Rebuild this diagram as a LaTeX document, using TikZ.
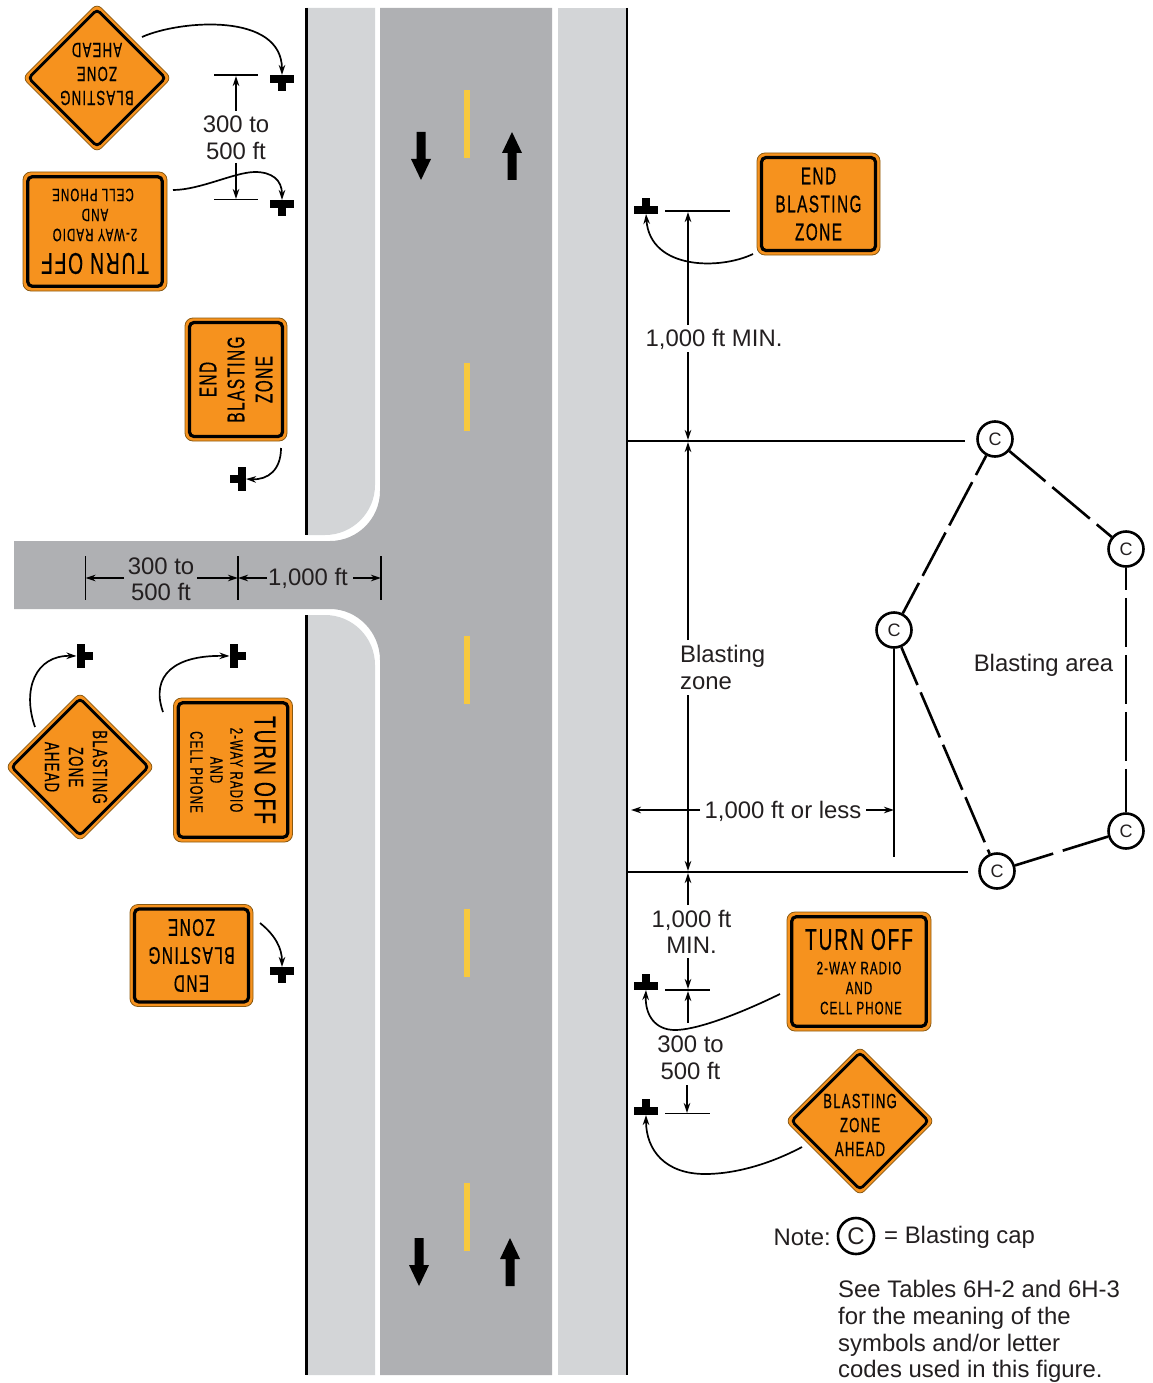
\documentclass[tikz,border=0pt]{standalone}
\usepackage{fontspec}
\setmainfont{Liberation Sans}
\newfontfamily\signfont[FakeStretch=0.64,LetterSpace=6,FakeBold=0.5]{Liberation Sans}
\usetikzlibrary{arrows.meta,shapes.geometric}
\definecolor{shoulder}{HTML}{D3D5D7}
\definecolor{road}{HTML}{AFB0B3}
\definecolor{dashyellow}{HTML}{F8C93E}
\definecolor{signorange}{HTML}{F6921E}
\definecolor{signedge}{HTML}{8A5A12}
\definecolor{ink}{HTML}{231F20}
\tikzset{
  lbl/.style={font=\fontsize{23.9}{24}\selectfont,text=ink,inner sep=0pt},
  dimarrow/.style={line width=1.6pt,draw=black,-{Stealth[length=10pt,width=6.5pt]}},
  rulebar/.style={line width=1.8pt,draw=black},
  leadcurve/.style={line width=1.7pt,draw=black,-{Stealth[length=10pt,width=6.5pt]}},
  boundary/.style={line width=2.6pt,draw=black},
  postbar/.style={fill=black,inner sep=0pt,outer sep=0pt},
  barh/.style={postbar,minimum width=24pt,minimum height=8pt},
  barv/.style={postbar,minimum width=8pt,minimum height=24pt},
  poststem/.style={postbar,minimum width=8pt,minimum height=8pt},
  blastcap/.style={circle,draw=black,fill=white,line width=2.6pt,minimum size=35pt,inner sep=0pt,font=\fontsize{18}{18}\selectfont,text=ink},
  blastlink/.style={line width=2.6pt,draw=black},
  signouter/.style={rectangle,draw=signedge,line width=.8pt,fill=signorange,rounded corners=8pt,inner sep=0pt,transform shape},
  signinner/.style={rectangle,draw=black,line width=3.2pt,rounded corners=4.5pt,inner sep=0pt,transform shape},
  diaouter/.style={diamond,aspect=1,draw=signedge,line width=.8pt,fill=signorange,rounded corners=6pt,inner sep=0pt,minimum size=149pt},
  diainner/.style={diamond,aspect=1,draw=black,line width=2.8pt,rounded corners=4pt,inner sep=0pt,minimum size=138pt},
  signline/.style={inner sep=0pt,text=black,transform shape},
}
\newcommand\postdown[3]{\node[barh] (#1) at (#2,#3) {}; \node[poststem] (#1s) at (#2,#3+8) {};}
\newcommand\postup[3]{\node[barh] (#1) at (#2,#3) {}; \node[poststem] (#1s) at (#2,#3-8) {};}
\newcommand\postright[3]{\node[barv] (#1) at (#2,#3) {}; \node[poststem] (#1s) at (#2+8,#3) {};}
\newcommand\postleft[3]{\node[barv] (#1) at (#2,#3) {}; \node[poststem] (#1s) at (#2-8,#3) {};}
\newcommand\turnoffsign[4]{\begin{scope}[shift={(#2,#3)},rotate=#4]
  \node[signouter,minimum width=144pt,minimum height=119pt] (#1) at (0,0) {};
  \node[signinner,minimum width=134.5pt,minimum height=109.5pt] (#1i) at (0,0) {};
  \node[signline,font=\signfont\fontsize{30}{30}\selectfont] (#1a) at (0,-32) {TURN OFF};
  \node[signline,font=\signfont\fontsize{18}{18}\selectfont] (#1b) at (0,-3.5) {2-WAY RADIO};
  \node[signline,font=\signfont\fontsize{18}{18}\selectfont] (#1c) at (0,16.5) {AND};
  \node[signline,font=\signfont\fontsize{18}{18}\selectfont] (#1d) at (2,36.5) {CELL PHONE};
\end{scope}}
\newcommand\finishsign[4]{\begin{scope}[shift={(#2,#3)},rotate=#4]
  \node[signouter,minimum width=123pt,minimum height=102pt] (#1) at (0,0) {};
  \node[signinner,minimum width=114pt,minimum height=93pt] (#1i) at (0,0) {};
  \node[signline,font=\signfont\fontsize{24}{24}\selectfont] (#1a) at (0,-28) {END};
  \node[signline,font=\signfont\fontsize{24}{24}\selectfont] (#1b) at (0,0) {BLASTING};
  \node[signline,font=\signfont\fontsize{24}{24}\selectfont] (#1c) at (0,28) {ZONE};
\end{scope}}
\newcommand\aheadsign[4]{\begin{scope}[shift={(#2,#3)},rotate=#4]
  \node[diaouter] (#1) at (0,0) {};
  \node[diainner] (#1i) at (0,0) {};
  \node[signline,font=\signfont\fontsize{20.5}{20.5}\selectfont] (#1a) at (0,-20) {BLASTING};
  \node[signline,font=\signfont\fontsize{20.5}{20.5}\selectfont] (#1b) at (0,4) {ZONE};
  \node[signline,font=\signfont\fontsize{20.5}{20.5}\selectfont] (#1c) at (0,28) {AHEAD};
\end{scope}}
\newcommand\upmark[2]{\fill[black] (#1,#2) -- (#1+10,#2+21) -- (#1+4.5,#2+21) -- (#1+4.5,#2+48) -- (#1-4.5,#2+48) -- (#1-4.5,#2+21) -- (#1-10,#2+21) -- cycle;}
\newcommand\downmark[2]{\fill[black] (#1,#2) -- (#1+10,#2-21) -- (#1+4.5,#2-21) -- (#1+4.5,#2-48) -- (#1-4.5,#2-48) -- (#1-4.5,#2-21) -- (#1-10,#2-21) -- cycle;}
\begin{document}
\begin{tikzpicture}[x=1pt,y=-1pt]
\useasboundingbox (0,0) rectangle (1152,1383);
% pavement
\fill[road] (380,8) -- (552,8) -- (552,1375) -- (380,1375) -- (380,660)
  .. controls (380,632.4) and (357.6,609) .. (330,609) -- (14,609) -- (14,541) -- (330,541)
  .. controls (357.6,541) and (380,518.6) .. (380,491) -- cycle;
\fill[shoulder] (306,8) -- (375,8) -- (375,485) .. controls (375,512.6) and (352.6,535) .. (325,535) -- (306,535) -- cycle;
\fill[shoulder] (306,615) -- (325,615) .. controls (352.6,615) and (375,637.4) .. (375,665) -- (375,1375) -- (306,1375) -- cycle;
\fill[shoulder] (558,8) rectangle (627,1375);
\draw[boundary] (306.5,8) -- (306.5,535);
\draw[boundary] (306.5,615) -- (306.5,1375);
\draw[boundary] (627,8) -- (627,1375);
% centre line
\foreach \y in {90,363,636,909,1183} \fill[dashyellow] (464,\y) rectangle (470,\y+68);
% direction marks
\downmark{421}{180} \upmark{512}{132} \downmark{419}{1286} \upmark{510}{1238}
% signs
\aheadsign{sa}{97}{78}{180}
\turnoffsign{sb}{95}{231.5}{180}
\finishsign{sc}{236}{379.5}{90}
\aheadsign{sd}{80}{767}{-90}
\turnoffsign{se}{233}{770}{-90}
\finishsign{sf}{191.5}{955.5}{180}
\finishsign{sg}{818.5}{204}{0}
\turnoffsign{sh}{859}{971.5}{0}
\aheadsign{si}{860}{1121}{0}
% posts
\postdown{pa}{282}{79}
\postdown{pb}{282}{204}
\postleft{pc}{242}{479}
\postright{pd}{80.5}{656}
\postright{pe}{233.5}{656}
\postdown{pf}{282}{971}
\postup{pg}{646}{210}
\postup{ph}{646}{986}
\postup{pi}{646}{1111}
% sign leads
\coordinate (la) at (142,37);
\coordinate (lb) at (173,190);
\coordinate (lc) at (281,448);
\coordinate (ld) at (35,727);
\coordinate (le) at (163,712);
\coordinate (lf) at (260,923);
\coordinate (lg) at (753,254);
\coordinate (lh) at (780,994);
\coordinate (li) at (802,1147);
\draw[leadcurve] (la) .. controls (180,20) and (282,12) .. (pa.north);
\draw[leadcurve] (lb) .. controls (200,190) and (235,172) .. (255,172) .. controls (272,172) and (282,180) .. (pb.north);
\draw[leadcurve] (lc) .. controls (281,470) and (268,480) .. (pc.east);
\draw[leadcurve] (ld) .. controls (22,690) and (35,655) .. (pd.west);
\draw[leadcurve] (le) .. controls (150,675) and (175,655) .. (pe.west);
\draw[leadcurve] (lf) .. controls (275,935) and (282,948) .. (pf.north);
\draw[leadcurve] (lg) .. controls (720,270) and (650,270) .. (pg.south);
\draw[leadcurve] (lh) .. controls (735,1016) and (695,1030) .. (675,1030) .. controls (655,1030) and (645,1015) .. (ph.south);
\draw[leadcurve] (li) .. controls (770,1164) and (735,1174) .. (705,1174) .. controls (665,1174) and (646,1150) .. (pi.south);
% top left dimension
\coordinate (ra1) at (214,75); \coordinate (ra2) at (258,75);
\coordinate (rb1) at (214,199.5); \coordinate (rb2) at (258,199.5);
\draw[rulebar] (ra1) -- (ra2); \draw[rulebar] (rb1) -- (rb2);
\node[lbl] (t1) at (236,124) {300 to};
\node[lbl] (t2) at (236,151) {500 ft};
\draw[dimarrow] (236,111) -- (236,76);
\draw[dimarrow] (236,163) -- (236,199);
% cross road dimension
\coordinate (x1a) at (85.5,556); \coordinate (x1b) at (85.5,600);
\coordinate (x2a) at (238,556); \coordinate (x2b) at (238,600);
\coordinate (x3a) at (381,556); \coordinate (x3b) at (381,600);
\draw[rulebar] (x1a) -- (x1b); \draw[rulebar] (x2a) -- (x2b); \draw[rulebar] (x3a) -- (x3b);
\node[lbl] (t3) at (161,566) {300 to};
\node[lbl] (t4) at (161,592) {500 ft};
\node[lbl] (t5) at (308,578.5) {1,000 ft};
\coordinate (x4) at (124,578); \coordinate (x5) at (197,578);
\coordinate (x6) at (267,578); \coordinate (x7) at (353,578);
\draw[dimarrow] (x4) -- (x1a |- x4);
\draw[dimarrow] (x5) -- (x2a |- x5);
\draw[dimarrow] (x6) -- (x2a |- x6);
\draw[dimarrow] (x7) -- (x3a |- x7);
% right side rules
\coordinate (rc1) at (665,211); \coordinate (rc2) at (730,211);
\coordinate (rd1) at (628,441); \coordinate (rd2) at (965,441);
\coordinate (re1) at (628,872); \coordinate (re2) at (968,872);
\coordinate (rf1) at (665,990); \coordinate (rf2) at (710,990);
\coordinate (rg1) at (665,1113.5); \coordinate (rg2) at (710,1113.5);
\draw[rulebar] (rc1) -- (rc2); \draw[rulebar] (rd1) -- (rd2); \draw[rulebar] (re1) -- (re2);
\draw[rulebar] (rf1) -- (rf2); \draw[rulebar] (rg1) -- (rg2);
\node[lbl] (t6) at (714,339) {1,000 ft MIN.};
\node[lbl,align=left,anchor=north west] (t7) at (680,645) {Blasting\\[3pt]zone};
\node[lbl] (t8) at (783,811) {1,000 ft or less};
\node[lbl] (t9) at (691.5,920) {1,000 ft};
\node[lbl] (t10) at (691.5,945) {MIN.};
\node[lbl] (t11) at (690.5,1044) {300 to};
\node[lbl] (t12) at (690.5,1071) {500 ft};
\coordinate (v1) at (688,325); \coordinate (v2) at (688,352);
\coordinate (v3) at (688,640); \coordinate (v4) at (688,695);
\coordinate (v5) at (688,905); \coordinate (v6) at (688,958);
\coordinate (v7) at (688,1023); \coordinate (v8) at (687,1085);
\draw[dimarrow] (v1) -- (688,212);
\draw[dimarrow] (v2) -- (688,440);
\draw[dimarrow] (v3) -- (688,442);
\draw[dimarrow] (v4) -- (688,871);
\draw[dimarrow] (v5) -- (688,873);
\draw[dimarrow] (v6) -- (688,989);
\draw[dimarrow] (v7) -- (688,991);
\draw[dimarrow] (v8) -- (687,1113);
\coordinate (h1) at (700,810); \coordinate (h2) at (866,810);
\draw[dimarrow] (h1) -- (631,810);
% blast caps
\node[blastcap] (c1) at (995,439) {C};
\node[blastcap] (c2) at (1126,549) {C};
\node[blastcap] (c3) at (894,630) {C};
\node[blastcap] (c4) at (997,871) {C};
\node[blastcap] (c5) at (1126,831) {C};
\coordinate (vb) at (894,857);
\draw[rulebar] (c3) -- (vb);
\draw[dimarrow] (h2) -- (894,810);
\draw[blastlink,dash pattern=on 49pt off 9pt,dash phase=2pt] (c1) -- (c2);
\draw[blastlink,dash pattern=on 49pt off 8pt,dash phase=27pt] (c1) -- (c3);
\draw[blastlink,dash pattern=on 49pt off 8pt,dash phase=27pt] (c2) -- (c5);
\draw[blastlink,dash pattern=on 49pt off 8pt,dash phase=8pt] (c3) -- (c4);
\draw[blastlink,dash pattern=on 40pt off 10pt on 70pt off 10pt] (c4) -- (c5);
\node[lbl] (t13) at (1043.5,665.5) {Blasting area};
% note
\node[lbl,anchor=east] (t14) at (831,1237) {Note:};
\node[blastcap,minimum size=36pt,font=\fontsize{24}{24}\selectfont] (c6) at (856,1236) {C};
\node[lbl,anchor=west] (t15) at (884,1237) {= Blasting cap};
\node[lbl,anchor=north west,align=left] (t16) at (838,1280) {See Tables 6H-2 and 6H-3\\[2.8pt]for the meaning of the\\[2.8pt]symbols and/or letter\\[2.8pt]codes used in this figure.};
\end{tikzpicture}
\end{document}
